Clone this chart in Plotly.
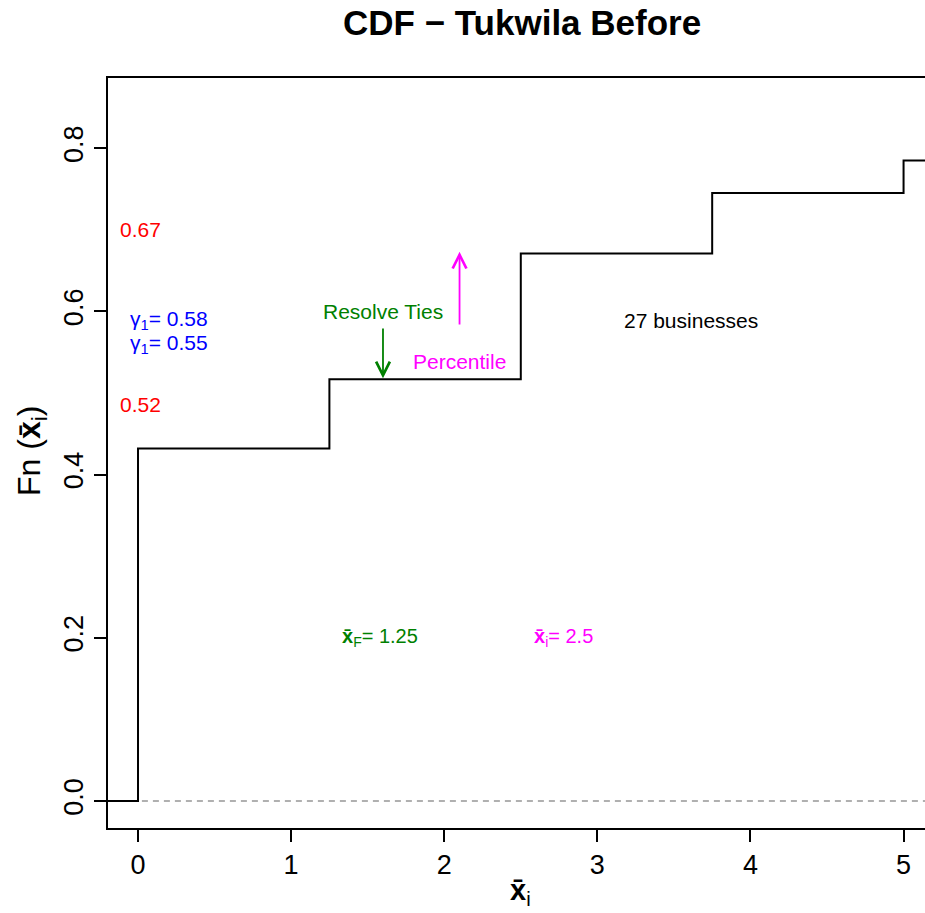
import plotly.graph_objects as go

# ECDF step data
step_x = [0, 1.25, 2.5, 3.75, 5]
step_y = [0.432, 0.517, 0.671, 0.745, 0.785]
x_min, x_max = -0.196, 5.14
y_min, y_max = -0.033, 0.886
x_ticks = [0, 1, 2, 3, 4, 5]
y_ticks = [0.0, 0.2, 0.4, 0.6, 0.8]

FONT = "Liberation Sans, Arial, sans-serif"

# build step polyline
xs = [x_min, step_x[0]]
ys = [0, 0]
for i, (sx, sy) in enumerate(zip(step_x, step_y)):
    nxt = step_x[i + 1] if i + 1 < len(step_x) else x_max + 0.5
    xs += [sx, nxt]
    ys += [sy, sy]

fig = go.Figure()
fig.add_trace(go.Scatter(x=[x_min - 1, x_max + 1], y=[0, 0], mode="lines",
                         line=dict(color="#b0b0b0", width=2, dash="6px,5px"),
                         hoverinfo="skip", showlegend=False))
fig.add_trace(go.Scatter(x=xs, y=ys, mode="lines", line=dict(color="black", width=2, shape="hv"),
                         hoverinfo="skip", showlegend=False))

ann = []
def txt(x, y, t, color, size=21, xanchor="center"):
    ann.append(dict(x=x, y=y, text=t, showarrow=False, xanchor=xanchor, yanchor="middle",
                    font=dict(color=color, size=size, family=FONT)))

txt(-0.131, 0.700, "0.67", "red", xanchor="left")
txt(-0.131, 0.486, "0.52", "red", xanchor="left")
txt(-0.068, 0.589, "γ<sub>1</sub>= 0.58", "blue", xanchor="left")
txt(-0.068, 0.560, "γ<sub>1</sub>= 0.55", "blue", xanchor="left")
txt(1.6, 0.600, "Resolve Ties", "green")
txt(2.1, 0.539, "Percentile", "magenta")
txt(3.61, 0.589, "27 businesses", "black")
txt(1.32, 0.200, "<b>x̄</b><sub>F</sub>= 1.25", "green", size=20, xanchor="left")
txt(2.57, 0.200, "<b>x̄</b><sub>i</sub>= 2.5", "magenta", size=20, xanchor="left")

# arrows
ann.append(dict(x=1.6, y=0.518, ax=1.6, ay=0.581, xref="x", yref="y", axref="x", ayref="y",
                showarrow=True, arrowhead=5, arrowsize=1.5, arrowwidth=1.8, arrowcolor="green", text=""))
ann.append(dict(x=2.1, y=0.673, ax=2.1, ay=0.582, xref="x", yref="y", axref="x", ayref="y",
                showarrow=True, arrowhead=5, arrowsize=1.5, arrowwidth=1.8, arrowcolor="magenta", text=""))

# title and axis titles
ann.append(dict(x=(522 - 108) / (925 - 108), y=1, xref="paper", yref="paper", yshift=56,
                text="<b>CDF − Tukwila Before</b>", showarrow=False,
                font=dict(size=35, color="black", family=FONT), xanchor="center", yanchor="middle"))
ann.append(dict(x=(520 - 108) / (925 - 108), y=0, xref="paper", yref="paper", yshift=-64,
                text="<b>x̄</b><sub>i</sub>", showarrow=False,
                font=dict(size=29, color="black", family=FONT), xanchor="center", yanchor="middle"))
ann.append(dict(x=0, y=(828 - 451) / (828 - 78), xref="paper", yref="paper", xshift=-76,
                text="Fn (<b>x̄</b><sub>i</sub>)", showarrow=False, textangle=-90,
                font=dict(size=32, color="black", family=FONT), xanchor="center", yanchor="middle"))

fig.update_layout(
    width=925, height=913,
    margin=dict(l=108, r=0, t=78, b=85),
    plot_bgcolor="white", paper_bgcolor="white",
    annotations=ann,
    font=dict(family=FONT, color="black"),
    xaxis=dict(range=[x_min, x_max], tickvals=x_ticks, ticktext=[str(v) for v in x_ticks],
               showgrid=False, zeroline=False, showline=True, mirror=True, linecolor="black",
               linewidth=2, ticks="outside", ticklen=12, tickwidth=1.5, tickcolor="black",
               tickfont=dict(size=27, family=FONT)),
    yaxis=dict(range=[y_min, y_max], tickvals=y_ticks, ticktext=[f"{v:.1f}" for v in y_ticks],
               showgrid=False, zeroline=False, showline=True, linecolor="black", linewidth=2,
               ticks="outside", ticklen=12, tickwidth=1.5, tickcolor="black", tickangle=-90,
               tickfont=dict(size=27, family=FONT)),
)

fig.write_html("out.html")
